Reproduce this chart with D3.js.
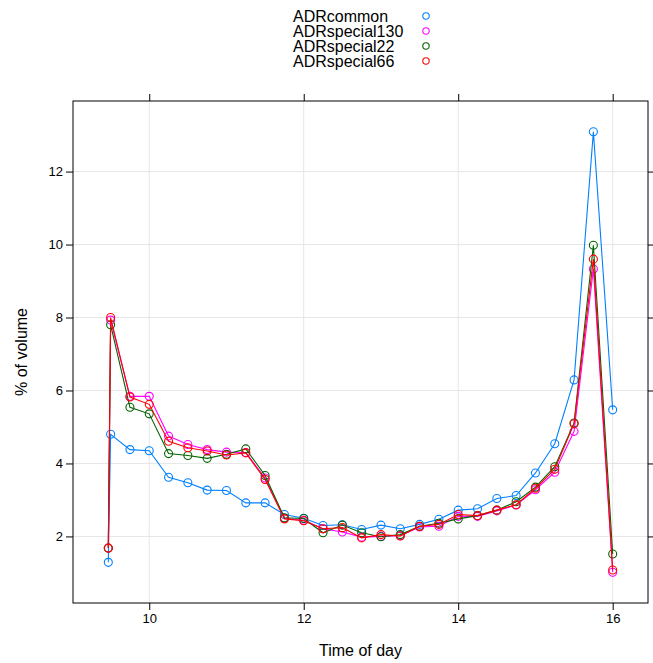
<!DOCTYPE html>
<html>
<head>
<meta charset="utf-8">
<script src="https://d3js.org/d3.v7.min.js"></script>
<style>
body { margin: 0; background: #fff; }
text { font-family: "Liberation Sans", Arial, sans-serif; fill: #000; }
</style>
</head>
<body>
<div id="chart"></div>
<script>
// time of day (hours), first point is the opening auction
var times = [9.47, 9.5, 9.75, 10, 10.25, 10.5, 10.75, 11, 11.25, 11.5, 11.75, 12, 12.25, 12.5,
  12.75, 13, 13.25, 13.5, 13.75, 14, 14.25, 14.5, 14.75, 15, 15.25, 15.5, 15.75, 16];

var seriesNames = ["ADRcommon", "ADRspecial130", "ADRspecial22", "ADRspecial66"];

var ADRcommon = [1.29, 4.80, 4.38, 4.35, 3.62, 3.47, 3.27, 3.26, 2.92, 2.92, 2.60, 2.50, 2.30, 2.32,
  2.19, 2.31, 2.21, 2.33, 2.47, 2.72, 2.76, 3.04, 3.12, 3.74, 4.54, 6.29, 13.09, 5.47];
var ADRspecial130 = [1.68, 7.93, 5.84, 5.84, 4.75, 4.52, 4.38, 4.31, 4.30, 3.60, 2.50, 2.44, 2.21, 2.12,
  1.98, 2.00, 2.02, 2.26, 2.28, 2.55, 2.55, 2.70, 2.86, 3.28, 3.76, 4.88, 9.33, 1.02];
var ADRspecial22 = [1.68, 7.80, 5.54, 5.36, 4.27, 4.22, 4.14, 4.25, 4.40, 3.67, 2.51, 2.49, 2.10, 2.31,
  2.10, 1.99, 2.05, 2.28, 2.36, 2.48, 2.57, 2.72, 2.95, 3.35, 3.91, 5.11, 9.98, 1.52];
var ADRspecial66 = [1.68, 8.00, 5.82, 5.62, 4.61, 4.43, 4.34, 4.23, 4.29, 3.56, 2.48, 2.43, 2.21, 2.24,
  1.96, 2.05, 2.01, 2.28, 2.33, 2.60, 2.57, 2.72, 2.87, 3.32, 3.84, 5.09, 9.60, 1.08];

var xTicks = [10, 12, 14, 16];
var yTicks = [2, 4, 6, 8, 10, 12];

var colors = ["#0080ff", "#ff00ff", "#006400", "#ff0000"];
var allSeries = [ADRcommon, ADRspecial130, ADRspecial22, ADRspecial66];

var W = 653, H = 663;
// panel edges (note: "top" is taken by window.top)
var pLeft = 73, pRight = 648, pTop = 101, pBottom = 603;

var svg = d3.select("#chart").append("svg")
  .attr("width", W)
  .attr("height", H);

// lattice style 7% padding on the data range
function padded(ext) {
  var p = (ext[1] - ext[0]) * 0.07;
  return [ext[0] - p, ext[1] + p];
}
var allY = d3.merge(allSeries);

var x = d3.scaleLinear().domain(padded(d3.extent(times))).range([pLeft, pRight]);
var y = d3.scaleLinear().domain(padded(d3.extent(allY))).range([pBottom, pTop]);

/* grid */
svg.selectAll("line.gx")
  .data(xTicks)
  .enter().append("line")
  .attr("x1", function(d){return x(d)})
  .attr("x2", function(d){return x(d)})
  .attr("y1", pTop).attr("y2", pBottom)
  .attr("stroke", "#e6e6e6").attr("stroke-width", 1);
svg.selectAll("line.gy")
  .data(yTicks)
  .enter().append("line")
  .attr("y1", function(d){return y(d)})
  .attr("y2", function(d){return y(d)})
  .attr("x1", pLeft).attr("x2", pRight)
  .attr("stroke", "#e6e6e6").attr("stroke-width", 1);

/* axes, ticks on all four sides, labels left and bottom */
var tk = 7;
svg.append("g").attr("transform", "translate(0," + pBottom + ")")
  .call(d3.axisBottom(x).tickValues(xTicks).tickSize(tk).tickPadding(4))
  .call(function(g){ g.select(".domain").remove(); });
svg.append("g").attr("transform", "translate(0," + pTop + ")")
  .call(d3.axisTop(x).tickValues(xTicks).tickSize(tk).tickFormat(""))
  .call(function(g){ g.select(".domain").remove(); });
svg.append("g").attr("transform", "translate(" + pLeft + ",0)")
  .call(d3.axisLeft(y).tickValues(yTicks).tickSize(tk).tickPadding(3))
  .call(function(g){ g.select(".domain").remove(); });
svg.append("g").attr("transform", "translate(" + pRight + ",0)")
  .call(d3.axisRight(y).tickValues(yTicks).tickSize(tk).tickFormat(""))
  .call(function(g){ g.select(".domain").remove(); });

svg.selectAll(".tick line").attr("stroke", "#000");
svg.selectAll(".tick text")
  .attr("font-family", "Liberation Sans, Arial, sans-serif")
  .attr("font-size", 13)
  .attr("fill", "#000");

svg.append("rect")
  .attr("x", pLeft).attr("y", pTop)
  .attr("width", pRight - pLeft).attr("height", pBottom - pTop)
  .attr("fill", "none").attr("stroke", "#000").attr("stroke-width", 1);

/* lines + points */
var line = d3.line()
  .x(function(d, i){return x(times[i])})
  .y(function(d){return y(d)});

for (var s = 0; s < allSeries.length; s++) {
  svg.append("path")
    .attr("d", line(allSeries[s]))
    .attr("fill", "none")
    .attr("stroke", colors[s])
    .attr("stroke-width", 1.1);
  svg.selectAll("circle.s" + s)
    .data(allSeries[s])
    .enter().append("circle")
    .attr("class", "s" + s)
    .attr("cx", function(d, i){return x(times[i])})
    .attr("cy", function(d){return y(d)})
    .attr("r", 4)
    .attr("fill", "none")
    .attr("stroke", colors[s])
    .attr("stroke-width", 1.1);
}

/* axis titles */
svg.append("text")
  .attr("x", (pLeft + pRight) / 2).attr("y", 656)
  .attr("text-anchor", "middle")
  .attr("font-size", 16)
  .text("Time of day");
svg.append("text")
  .attr("transform", "translate(27," + ((pTop + pBottom) / 2) + ") rotate(-90)")
  .attr("text-anchor", "middle")
  .attr("font-size", 16)
  .text("% of volume");

/* legend */
var legend = svg.selectAll("g.legend")
  .data(seriesNames)
  .enter().append("g")
  .attr("transform", function(d, i){return "translate(293," + (21.5 + i * 15) + ")"});
legend.append("text")
  .attr("font-size", 16)
  .text(function(d){return d});
legend.append("circle")
  .attr("cx", 133).attr("cy", -5.5)
  .attr("r", 3.2)
  .attr("fill", "none")
  .attr("stroke", function(d, i){return colors[i]})
  .attr("stroke-width", 1.1);
</script>
</body>
</html>
